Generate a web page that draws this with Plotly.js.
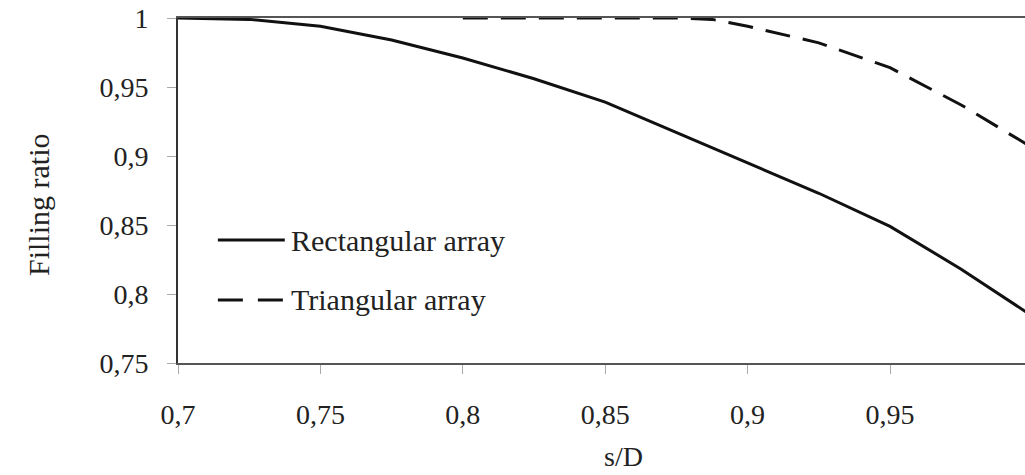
<!DOCTYPE html>
<html>
<head>
<meta charset="utf-8">
<script src="https://cdn.plot.ly/plotly-3.0.1.min.js"></script>
<style>
  html, body { margin: 0; padding: 0; background: #fff; }
  #chart { width: 1025px; height: 475px; }
</style>
</head>
<body>
<div id="chart"></div>
<script>
// s/D values
const sdRect = [0.700, 0.725, 0.750, 0.775, 0.800, 0.825, 0.850, 0.875, 0.900, 0.925, 0.950, 0.975, 1.000];
const fillRect = [1.000, 0.999, 0.994, 0.984, 0.971, 0.956, 0.939, 0.917, 0.895, 0.873, 0.849, 0.818, 0.784];

const sdTri = [0.800, 0.825, 0.850, 0.875, 0.8875, 0.900, 0.925, 0.950, 0.975, 1.000];
const fillTri = [1.000, 1.000, 1.000, 1.000, 0.999, 0.994, 0.982, 0.964, 0.937, 0.906];

const xTickVals = [0.7, 0.75, 0.8, 0.85, 0.9, 0.95, 1.0];
const xTickText = ["0,7", "0,75", "0,8", "0,85", "0,9", "0,95", "1"];
const yTickVals = [0.75, 0.8, 0.85, 0.9, 0.95, 1.0];
const yTickText = ["0,75", "0,8", "0,85", "0,9", "0,95", "1"];

const seriesNames = ["Rectangular array", "Triangular array"];
const xTitle = "s/D";
const yTitle = "Filling ratio";

const FONT = "'Liberation Serif', 'Times New Roman', serif";
const fsTick = 28;
const fsText = 30;

const traces = [
  {
    x: sdRect, y: fillRect, type: 'scatter', mode: 'lines', name: seriesNames[0],
    line: { color: '#111', width: 3 }
  },
  {
    x: sdTri, y: fillTri, type: 'scatter', mode: 'lines', name: seriesNames[1],
    line: { color: '#111', width: 3, dash: '25px,13px' }
  }
];

// legend entries (sample lines drawn as shapes to match the long samples)
const legY = [0.8391, 0.7957];
const legX0 = 0.7140, legX1 = 0.7375, legText = 0.7390;

const layout = {
  width: 1025, height: 475,
  margin: { l: 178, r: 0, t: 18, b: 112 },
  paper_bgcolor: '#fff', plot_bgcolor: '#fff',
  showlegend: false,
  font: { family: FONT, size: fsTick, color: '#222' },
  xaxis: {
    range: [0.7, 0.9974],
    tickvals: xTickVals, ticktext: xTickText,
    showgrid: false, zeroline: false,
    showline: true, linecolor: '#555', linewidth: 2, mirror: true,
    ticks: 'outside', ticklen: 9, tickwidth: 1, tickcolor: '#aaa',
    ticklabelstandoff: 16,
    tickfont: { family: FONT, size: fsTick, color: '#222' }
  },
  yaxis: {
    range: [0.75, 1.0],
    tickvals: yTickVals, ticktext: yTickText,
    showgrid: false, zeroline: false,
    showline: true, linecolor: '#333', linewidth: 2,
    ticks: 'outside', ticklen: 9, tickwidth: 1, tickcolor: '#aaa',
    ticklabelstandoff: 13,
    tickfont: { family: FONT, size: fsTick, color: '#222' }
  },
  shapes: [
    { type: 'line', xref: 'x', yref: 'y', x0: legX0, x1: legX1, y0: legY[0], y1: legY[0],
      line: { color: '#111', width: 3 } },
    { type: 'line', xref: 'x', yref: 'y', x0: legX0, x1: legX1, y0: legY[1], y1: legY[1],
      line: { color: '#111', width: 3, dash: '25px,15px' } }
  ],
  annotations: [
    { xref: 'x', yref: 'y', x: legText, y: legY[0], text: seriesNames[0], showarrow: false,
      xanchor: 'left', yanchor: 'middle', font: { family: FONT, size: fsText, color: '#222' } },
    { xref: 'x', yref: 'y', x: legText, y: legY[1], text: seriesNames[1], showarrow: false,
      xanchor: 'left', yanchor: 'middle', font: { family: FONT, size: fsText, color: '#222' } },
    { xref: 'paper', yref: 'paper', x: (623 - 178) / 847, y: -93 / 345, text: xTitle, showarrow: false,
      xanchor: 'center', yanchor: 'middle', font: { family: FONT, size: 28, color: '#222' } },
    { xref: 'paper', yref: 'paper', x: -140 / 847, y: (363 - 205) / 345, text: yTitle, showarrow: false, textangle: -90,
      xanchor: 'center', yanchor: 'middle', font: { family: FONT, size: fsText, color: '#222' } }
  ]
};

Plotly.newPlot('chart', traces, layout, { displayModeBar: false, staticPlot: true });
</script>
</body>
</html>
